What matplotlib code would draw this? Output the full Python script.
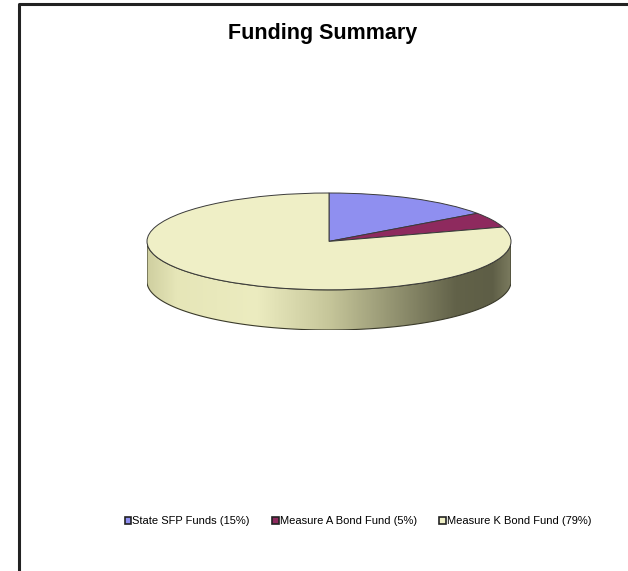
import numpy as np
import matplotlib
matplotlib.use("Agg")
import matplotlib.pyplot as plt
from matplotlib.patches import Polygon, Rectangle
from matplotlib.colors import LinearSegmentedColormap

plt.rcParams['font.family'] = ['Liberation Sans', 'DejaVu Sans']

TITLE = "Funding Summary"
labels = ["State SFP Funds (15%)", "Measure A Bond Fund (5%)", "Measure K Bond Fund (79%)"]
values = [15, 5, 79]
colors = ["#8f8ff0", "#8e2a5e", "#efefc6"]

DEPTH = 0.83  # thickness of the disc, in units of the vertical radius

fig = plt.figure(figsize=(6.28, 5.71), dpi=100)

# frame of the chart area (only top and left edges are in view)
bg = fig.add_axes([0, 0, 1, 1])
bg.set_xlim(0, 628)
bg.set_ylim(571, 0)
bg.axis("off")
bg.plot([19, 19, 628], [571, 4, 4], color="#222222", lw=2.2, solid_capstyle="butt")

fig.text(323 / 628, 1 - 33 / 571, TITLE, ha="center", va="center",
         fontsize=15.5, fontweight="bold")

# pie axes: bounding box of the disc (top face plus side)
left, right, top, bottom = 147, 511, 193, 330
ax = fig.add_axes([left / 628, 1 - bottom / 571, (right - left) / 628, (bottom - top) / 571])

# side wall (front half of the disc), shaded with a horizontal gradient
t = np.linspace(np.pi, 2 * np.pi, 200)
side = np.concatenate([np.c_[np.cos(t), np.sin(t)],
                       np.c_[np.cos(t[::-1]), np.sin(t[::-1]) - DEPTH]])
side_poly = Polygon(side, closed=True, facecolor="none", edgecolor="#3a3a2a", lw=0.8, zorder=3)
ax.add_patch(side_poly)
shade = LinearSegmentedColormap.from_list("side", [
    (0.0, "#cfcfa0"), (0.08, "#e6e6b8"), (0.3, "#ececc0"), (0.5, "#c6c69a"),
    (0.7, "#8d8d6c"), (0.85, "#626249"), (0.95, "#5e5e46"), (1.0, "#7a7a5e")])
grad = np.linspace(0, 1, 256).reshape(1, -1)
im = ax.imshow(grad, cmap=shade, extent=[-1, 1, -1 - DEPTH, 0], aspect="auto", zorder=2)
im.set_clip_path(side_poly)

# top face, drawn with the pie routine on a stretched axes
wedges, _ = ax.pie(values, colors=colors, startangle=90, counterclock=False,
                   radius=1, frame=True,
                   wedgeprops=dict(edgecolor="#3a3a3a", linewidth=0.7))
for w in wedges:
    w.set_zorder(4)
ax.set_xlim(-1, 1)
ax.set_ylim(-1 - DEPTH, 1)
ax.set_aspect("auto")
ax.axis("off")

# legend
handles = [Rectangle((0, 0), 1, 1, facecolor=c, edgecolor="#222222", lw=1.2) for c in colors]
fig.legend(handles, labels, loc="center", bbox_to_anchor=(358 / 628, 1 - 521 / 571),
           ncol=3, frameon=False, fontsize=8, handlelength=0.6, handleheight=0.6,
           handletextpad=0.1, columnspacing=2.0, borderpad=0)

fig.savefig("out.png", dpi=100)
